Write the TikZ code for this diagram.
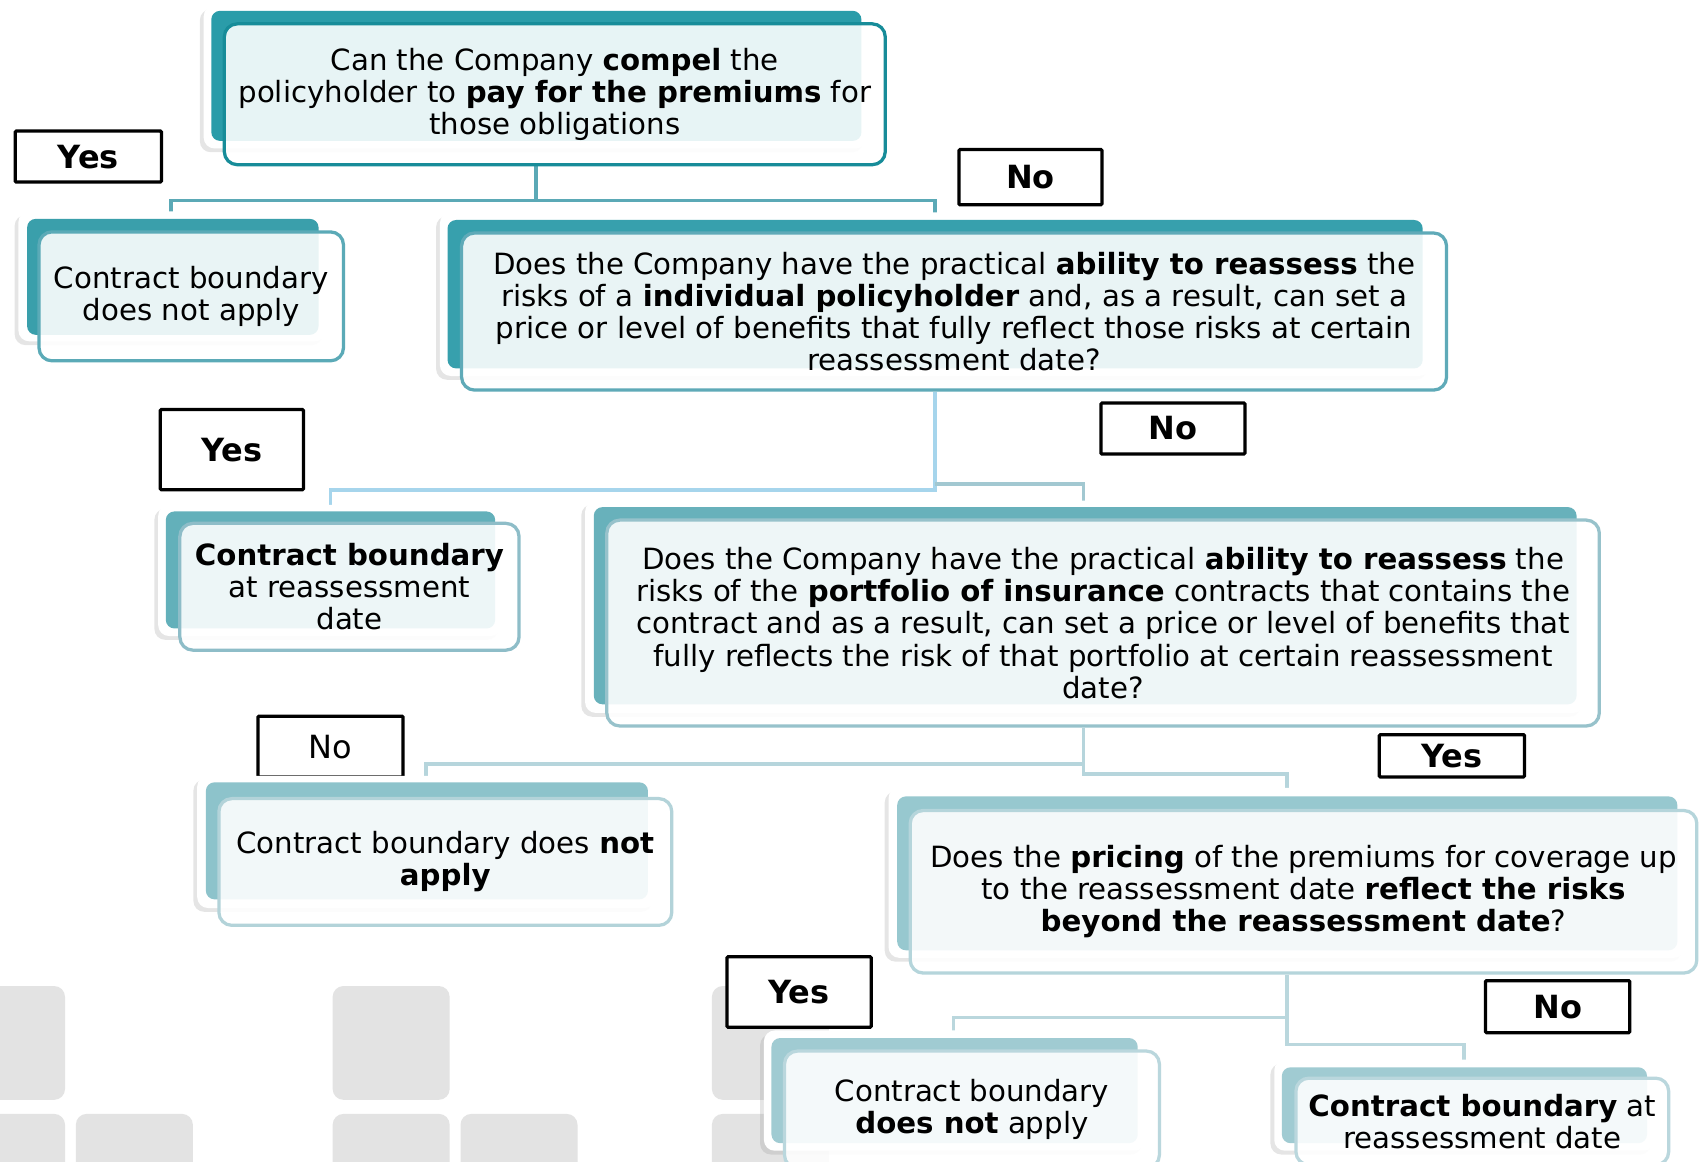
\documentclass[tikz,border=0pt]{standalone}
\usepackage{fontspec}
\setmainfont{DejaVu Sans}
\usetikzlibrary{shadows}
\definecolor{bkA}{HTML}{2A9CA9}\definecolor{edA}{HTML}{178C99}
\definecolor{bkB}{HTML}{3A9FAB}\definecolor{edB}{HTML}{5BAAB7}
\definecolor{bkC}{HTML}{37A0AD}\definecolor{edC}{HTML}{5FAAB8}
\definecolor{bkD}{HTML}{63B0BA}\definecolor{edD}{HTML}{8EBDC8}
\definecolor{bkE}{HTML}{68B1BB}\definecolor{edE}{HTML}{97C2CB}
\definecolor{bkF}{HTML}{8DC3CB}\definecolor{edF}{HTML}{B3D3D9}
\definecolor{bkG}{HTML}{97C8CF}\definecolor{edG}{HTML}{B5D5DB}
\definecolor{bkH}{HTML}{A0CBD2}\definecolor{edH}{HTML}{BAD7DD}
\definecolor{lkA}{HTML}{5BA9B6}
\definecolor{lkB}{HTML}{A6D5EC}
\definecolor{lkC}{HTML}{A2C8D1}
\definecolor{lkD}{HTML}{B6D5DC}
\definecolor{lkE}{HTML}{BAD7DD}
\definecolor{tilegray}{HTML}{E3E3E3}
\pgfdeclarelayer{base}
\pgfdeclarelayer{wires}
\pgfsetlayers{base,wires,main}
\begin{document}
\begin{tikzpicture}[x=1pt,y=-1pt,
  every node/.style={font=\fontsize{27}{29.6}\selectfont},
  plate/.style={fill=white, rounded corners=10pt,
    drop shadow={shadow xshift=-3.5pt, shadow yshift=-3.5pt, opacity=.2}},
  backing/.style={fill=#1, rounded corners=8pt},
  facebox/.style={draw=#1, line width=3pt, fill=white, fill opacity=.89,
    text opacity=1, rounded corners=12pt, align=center, inner sep=0pt},
  answer/.style={draw=black, line width=3pt, fill=white, inner sep=0pt,
    rounded corners=1pt, font=\fontsize{29.5}{32}\selectfont\bfseries},
  answerlight/.style={answer, font=\fontsize{29.5}{32}\selectfont},
  link/.style={draw=#1, line width=3.5pt},
  tile/.style={fill=tilegray, rounded corners=10pt}
]
\useasboundingbox (0,0) rectangle (1568,1072);
\begin{pgfonlayer}{base}
\fill[white] (0,0) rectangle (1568,1072);
% decorative tiles in the lower left corner
\foreach \xa/\ya in {-48/910,-48/1028,70/1028,307/910,307/1028,425/1028,657/910,657/1028}
  \fill[tile] (\xa,\ya) rectangle ++(108,105);
\end{pgfonlayer}

% ---------- answer labels ----------
\node[answer, minimum width=135, minimum height=47] (a1) at (81.5,144.5) {Yes};
\node[answer, minimum width=132, minimum height=51] (a2) at (951,163.5) {No};
\node[answer, minimum width=132, minimum height=74] (a3) at (214,415) {Yes};
\node[answer, minimum width=133, minimum height=47] (a4) at (1082.5,395.5) {No};
\node[answerlight, minimum width=134, minimum height=56] (a5) at (305,689) {No};
\node[answer, minimum width=134, minimum height=39] (a6) at (1340,697.5) {Yes};
\node[answer, minimum width=133, minimum height=65] (a7) at (737.5,915.5) {Yes};
\node[answer, minimum width=133, minimum height=48] (a8) at (1437.5,929) {No};

% ---------- question 1 ----------
\fill[plate] (188,5) rectangle (800,137);
\fill[backing=bkA] (195,10) rectangle (795,130);
\node[facebox=edA, minimum width=610, minimum height=130] (q1) at (512,87)
  {Can the Company \textbf{compel} the\\
   policyholder to \textbf{pay for the premiums} for\\
   those obligations};

% ---------- outcome: does not apply ----------
\fill[plate] (17,195) rectangle (301,315);
\fill[backing=bkB] (25,202) rectangle (294,309);
\node[facebox=edB, minimum width=281, minimum height=119] (l1) at (176.5,273.5)
  {Contract boundary\\ does not apply};

% ---------- question 2 ----------
\fill[plate] (406,196) rectangle (1320,347);
\fill[backing=bkC] (413,203) rectangle (1313,340);
\node[facebox=edC, minimum width=909, minimum height=145] (q2) at (880.5,287.5)
  {Does the Company have the practical \textbf{ability to reassess} the\\
   risks of a \textbf{individual policyholder} and, as a result, can set a\\
   price or level of benefits that fully reflect those risks at certain\\
   reassessment date?};

% ---------- outcome: boundary at reassessment ----------
\fill[plate] (146,466) rectangle (463,587);
\fill[backing=bkD] (153,472) rectangle (457,580);
\node[facebox=edD, minimum width=313, minimum height=117] (l2) at (322.5,541.5)
  {\textbf{Contract boundary}\\ at reassessment\\ date};

% ---------- question 3 ----------
\fill[plate] (540,462) rectangle (1462,658);
\fill[backing=bkE] (548,468) rectangle (1455,650);
\node[facebox=edE, minimum width=916, minimum height=190] (q3) at (1018,575)
  {Does the Company have the practical \textbf{ability to reassess} the\\
   risks of the \textbf{portfolio of insurance} contracts that contains the\\
   contract and as a result, can set a price or level of benefits that\\
   fully reflects the risk of that portfolio at certain reassessment\\
   date?};

% ---------- outcome: does not apply ----------
\fill[plate] (182,716) rectangle (605,838);
\fill[backing=bkF] (190,722) rectangle (598,830);
\node[facebox=edF, minimum width=418, minimum height=117] (l3) at (411,795.5)
  {Contract boundary does \textbf{not}\\ \textbf{apply}};

% ---------- question 4 ----------
\fill[plate] (820,727) rectangle (1555,884);
\fill[backing=bkG] (828,735) rectangle (1548,877);
\node[facebox=edG, minimum width=726, minimum height=150] (q4) at (1203,823)
  {Does the \textbf{pricing} of the premiums for coverage up\\
   to the reassessment date \textbf{reflect the risks}\\
   \textbf{beyond the reassessment date}?};

% ---------- outcome: does not apply ----------
\fill[plate] (705,951) rectangle (1057,1062);
\fill[backing=bkH] (712,958) rectangle (1050,1055);
\node[facebox=edH, minimum width=346, minimum height=108] (l4) at (897,1024)
  {Contract boundary\\ \textbf{does not} apply};

% ---------- outcome: boundary at reassessment ----------
\fill[plate] (1176,978) rectangle (1527,1062);
\fill[backing=bkH] (1183,985) rectangle (1520,1055);
\node[facebox=edH, minimum width=344, minimum height=80] (l5) at (1368,1035)
  {\textbf{Contract boundary} at\\ reassessment date};

% ---------- connectors, drawn behind the boxes ----------
\coordinate (j1) at (495,185);
\coordinate (j2) at (863,452);
\coordinate (j2r) at (863,447);
\coordinate (j3) at (1000,705);
\coordinate (j3r) at (1000,714);
\coordinate (j4) at (1188,939);
\coordinate (j4r) at (1188,964);
\coordinate (xa) at (158,0);
\coordinate (xb) at (863,0);
\coordinate (xc) at (305,0);
\coordinate (xd) at (1000,0);
\coordinate (xe) at (393,0);
\coordinate (xf) at (1188,0);
\coordinate (xg) at (880,0);
\coordinate (xh) at (1351,0);
\begin{pgfonlayer}{wires}
\draw[link=lkA] (q1.south -| j1) -- (j1) -| (l1.north -| xa);
\draw[link=lkA] (j1) -| (q2.north -| xb);
\draw[link=lkB] (q2.south -| j2) -- (j2) -| (l2.north -| xc);
\draw[link=lkC] (j2r) -| (q3.north -| xd);
\draw[link=lkD] (q3.south -| j3) -- (j3r) -| (q4.north -| xf);
\draw[link=lkD] (j3) -| (l3.north -| xe);
\draw[link=lkE] (q4.south -| j4) -- (j4r) -| (l5.north -| xh);
\draw[link=lkE] (j4) -| (l4.north -| xg);
\end{pgfonlayer}
\end{tikzpicture}
\end{document}
